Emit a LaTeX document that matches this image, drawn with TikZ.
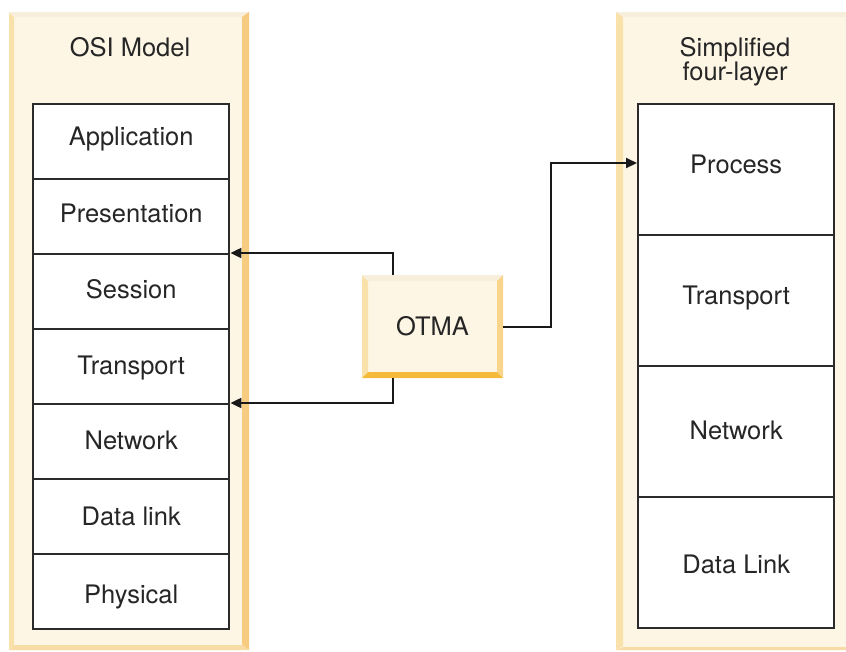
\documentclass[tikz,border=0pt]{standalone}
\usepackage{fontspec}
\setmainfont{TeX Gyre Heros}
\usetikzlibrary{arrows.meta,calc}
\definecolor{cream}{HTML}{FEF6E5}
\definecolor{bevleft}{HTML}{F8E2AA}
\definecolor{bevtop}{HTML}{F7EEDB}
\definecolor{bevright}{HTML}{F7CB80}
\definecolor{bevbottom}{HTML}{F8DCA5}
\definecolor{otmabottom}{HTML}{F5BA3A}
\definecolor{otmaright}{HTML}{F9D58C}
\definecolor{edge}{HTML}{2B2B2B}
\newcommand\liftby[2]{\raisebox{#1pt}{#2}}
\tikzset{
  lbl/.style={font=\fontsize{25.5}{27}\selectfont, text=black!85},
  osilayer/.style={lbl, draw=edge, line width=2.4pt, fill=white, minimum width=196pt, minimum height=75pt, inner sep=0pt, text height=18.4pt, text depth=0pt, anchor=north west},
  simlayer/.style={osilayer, minimum height=131pt},
  conn/.style={draw=black!90, line width=2pt, -{Triangle[length=11pt,width=10pt]}},
}
\begin{document}
\begin{tikzpicture}[x=1pt,y=-1pt]
\useasboundingbox (0,0) rectangle (846,651);
\fill[white] (0,0) rectangle (846,651);
% left panel
\fill[cream] (9,12) rectangle (249,650);
\fill[bevleft] (9,12) -- (14,17) -- (14,645) -- (9,650) -- cycle;
\fill[bevtop] (9,12) -- (249,12) -- (242,17) -- (14,17) -- cycle;
\fill[bevright] (249,12) -- (249,650) -- (242,645) -- (242,17) -- cycle;
\fill[bevbottom] (9,650) -- (249,650) -- (242,645) -- (14,645) -- cycle;
% right panel
\fill[cream] (616,12) rectangle (846,650);
\fill[bevleft] (616,12) -- (623,17) -- (623,646) -- (616,650) -- cycle;
\fill[bevtop] (616,12) -- (846,12) -- (846,17) -- (623,17) -- cycle;
\fill[bevbottom] (616,650) -- (846,650) -- (846,647) -- (623,647) -- cycle;
% titles
\node[lbl, text height=18.4pt, text depth=0pt] (osititle) at (130,47) {OSI Model};
\node[lbl, align=center, inner sep=0pt] (simtitle) at (735,62) {Simplified\\[-3pt]four-layer};
% OSI layers
\node[osilayer] (app) at (32,103) {\liftby{5.5}{Application}};
\node[osilayer] (pres) at (32,178) {\liftby{3.5}{Presentation}};
\node[osilayer] (sess) at (32,253) {\liftby{2.5}{Session}};
\node[osilayer] (trans) at (32,328) {\liftby{1.5}{Transport}};
\node[osilayer] (net) at (32,403) {\liftby{1}{Network}};
\node[osilayer] (dlink) at (32,478) {Data link};
\node[osilayer] (phys) at (32,553) {\liftby{-2.5}{Physical}};
% simplified layers
\node[simlayer] (proc) at (637,103) {\liftby{5.5}{Process}};
\node[simlayer] (strans) at (637,234) {\liftby{5}{Transport}};
\node[simlayer] (snet) at (637,365) {\liftby{1.5}{Network}};
\node[simlayer] (slink) at (637,496) {\liftby{-1.5}{Data Link}};
% OTMA box
\fill[cream] (362,275) rectangle (503,378);
\fill[bevleft] (362,275) -- (368,281) -- (368,372) -- (362,378) -- cycle;
\fill[bevtop] (362,275) -- (503,275) -- (497,281) -- (368,281) -- cycle;
\fill[otmaright] (503,275) -- (503,378) -- (497,372) -- (497,281) -- cycle;
\fill[otmabottom] (362,378) -- (503,378) -- (497,372) -- (368,372) -- cycle;
\node[lbl, minimum width=141pt, minimum height=103pt, inner sep=0pt, text height=18.4pt, text depth=0pt] (otma) at (432.5,326.5) {OTMA};
% connectors
\coordinate (otop) at ($(otma.north west)!0.22!(otma.north east)$);
\coordinate (obot) at ($(otma.south west)!0.22!(otma.south east)$);
\coordinate (jog) at (551,0);
\draw[conn] (otop) |- (sess.north east);
\draw[conn] (obot) |- (net.north east);
\draw[conn] (otma.east) -| (jog |- 0,163) -- (proc.west |- 0,163);
\end{tikzpicture}
\end{document}
